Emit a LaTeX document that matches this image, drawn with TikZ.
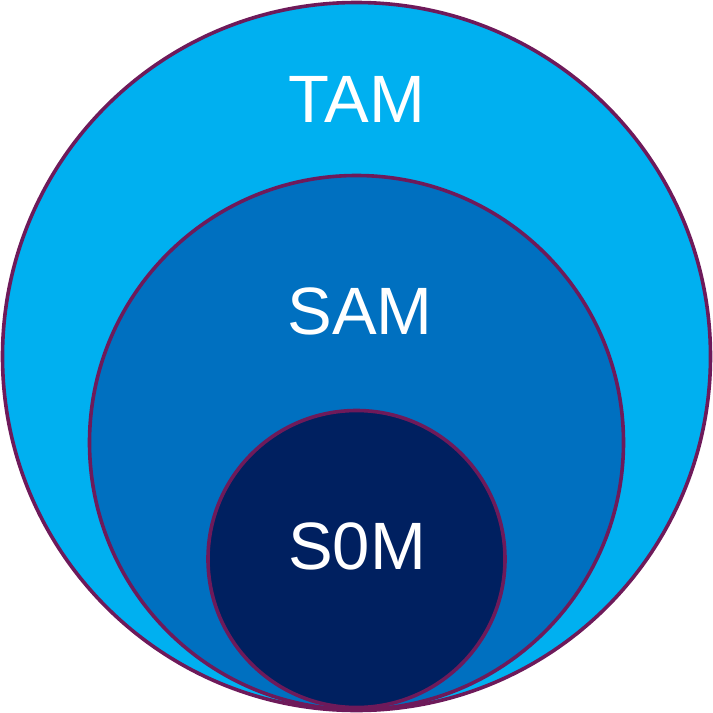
\documentclass[tikz,border=0pt]{standalone}
\usepackage{fontspec}
\setmainfont{Liberation Sans}
\definecolor{tamc}{HTML}{00B0F0}
\definecolor{samc}{HTML}{0070C0}
\definecolor{somc}{HTML}{002060}
\definecolor{edgec}{HTML}{6E1A5A}
\begin{document}
\begin{tikzpicture}[x=1pt,y=-1pt,
  ring/.style={draw=edgec,line width=3.6pt},
  lbl/.style={text=white,font=\fontsize{67}{70}\selectfont,anchor=base,inner sep=0pt}]
\useasboundingbox (0,0) rectangle (713,713);
\path[ring,fill=tamc] (356.5,356.5) circle[radius=354];
\path[ring,fill=samc] (356.5,442.5) circle[radius=267];
\path[ring,fill=somc] (356.5,559) circle[radius=148.5];
\node[lbl] (tam) at (357,122) {TAM};
\node[lbl] (sam) at (360,334) {SAM};
\node[lbl] (som) at (357,569) {S0M};
\end{tikzpicture}
\end{document}
